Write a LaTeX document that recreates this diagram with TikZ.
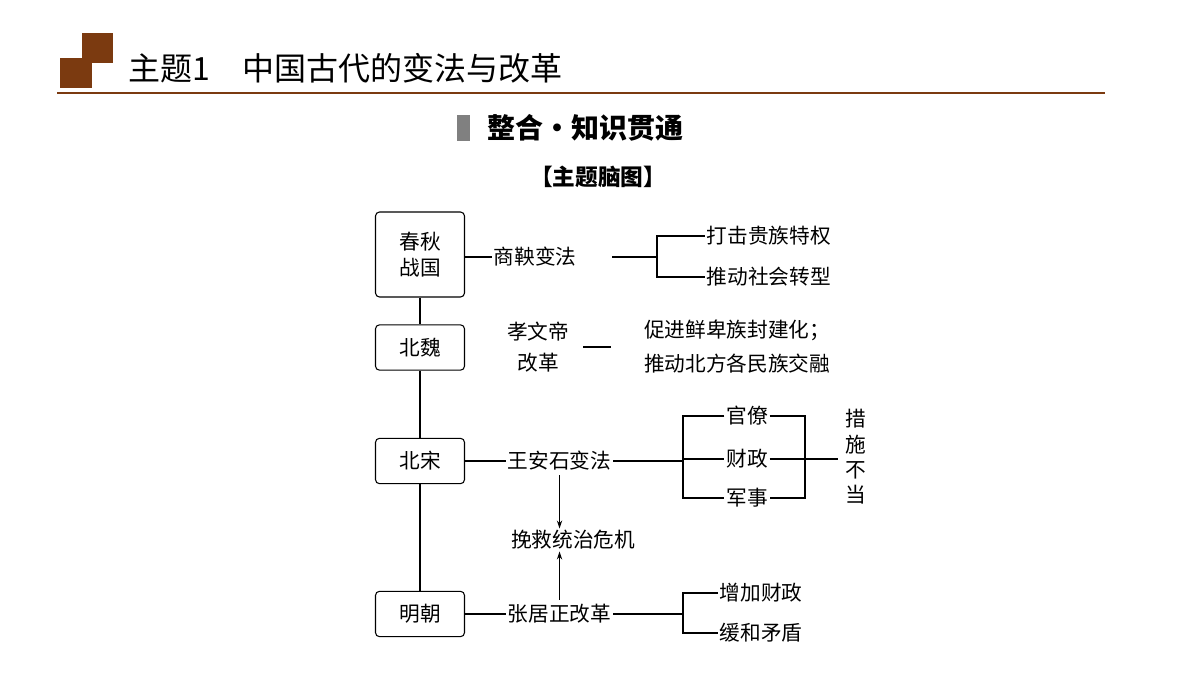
\documentclass[tikz,border=0pt]{standalone}
\usepackage{fontspec}
\setmainfont{Noto Sans CJK SC}
\usetikzlibrary{arrows.meta}
\definecolor{brownlogo}{HTML}{7B3A10}
\tikzset{
  era/.style={draw,rounded corners=3pt,minimum width=66.75pt,inner sep=1pt,align=center},
  txt/.style={inner sep=1pt,align=center},
  ln/.style={line width=0.8pt},
}
\begin{document}
\begin{tikzpicture}[x=0.75pt,y=-0.75pt,font=\fontsize{15.5}{19}\selectfont,line width=0.8pt]
\useasboundingbox (0,0) rectangle (1200,675);
% header
\fill[brownlogo] (60,58) rectangle (92,88);
\fill[brownlogo] (82,33) rectangle (113,63);
\node[anchor=west,inner sep=0] (title) at (128,68) {\fontsize{24}{28}\selectfont 主题1\quad 中国古代的变法与改革};
\draw[brownlogo,line width=1.5pt] (57,93) -- (1105,93);
\fill[gray] (457,115) rectangle (470,141);
\node[inner sep=0,anchor=west] (sec) at (487,128) {\fontsize{21}{24}\selectfont\bfseries 整合・知识贯通};
\node[inner sep=0] (sub) at (598,177) {\fontsize{17}{20}\selectfont\bfseries 【主题脑图】};
% eras
\node[era,minimum height=63.75pt] (cq) at (420,254.5) {春秋\\战国};
\node[era,minimum height=34pt] (bw) at (420,347.5) {北魏};
\node[era,minimum height=34pt] (bs) at (420,461) {北宋};
\node[era,minimum height=34pt] (mc) at (420,614) {明朝};
\draw (cq) -- (bw) (bw) -- (bs) (bs) -- (mc);
% shang yang
\node[txt,anchor=west] (sy) at (492,257) {商鞅变法};
\draw (cq.east |- sy) -- (sy.west);
\node[txt,anchor=west] (sy1) at (705,236) {打击贵族特权};
\node[txt,anchor=west] (sy2) at (705,277) {推动社会转型};
\coordinate (syb) at (657,257);
\draw (612,257) -- (syb);
\draw (sy1.west) -| (syb) |- (sy2.west);
% xiaowen
\node[txt] (xw) at (538,347) {孝文帝\\[4pt]改革};
\node[txt] (xw1) at (737,330) {促进鲜卑族封建化；};
\node[txt] (xw2) at (737,364) {推动北方各民族交融};
\draw (583,347) -- (611,347);
% wang anshi
\node[txt,anchor=west] (wa) at (506,461) {王安石变法};
\draw (bs.east) -- (wa.west);
\node[txt] (w1) at (747,416) {官僚};
\node[txt] (w2) at (747,459) {财政};
\node[txt] (w3) at (747,498) {军事};
\coordinate (wb) at (683,461);
\draw (wa.east) -- (wb);
\draw (w1.west) -| (wb) |- (w3.west);
\draw (wb |- w2) -- (w2.west);
\coordinate (wr) at (805,459);
\draw (w1.east) -| (wr) |- (w3.east);
\draw (w2.east) -- (wr) -- (838,459);
\node[txt] (cs) at (856,457) {措\\施\\不\\当};
% crisis
\node[txt] (wj) at (573,540) {挽救统治危机};
\draw[-{Stealth[length=6pt,width=4pt]}] (wa.south) ++(0,3) coordinate (wa1) (wa1) -- (wj.north -| wa1);
% zhang juzheng
\node[txt,anchor=west] (zj) at (506,614) {张居正改革};
\draw (mc.east) -- (zj.west);
\draw[-{Stealth[length=6pt,width=4pt]}] (zj.north) ++(0,-3) coordinate (zj1) (zj1) -- (wj.south -| zj1);
\node[txt,anchor=west] (z1) at (718,593) {增加财政};
\node[txt,anchor=west] (z2) at (718,633) {缓和矛盾};
\coordinate (zb) at (683,614);
\draw (zj.east) -- (zb);
\draw (z1.west) -| (zb) |- (z2.west);
\end{tikzpicture}
\end{document}
